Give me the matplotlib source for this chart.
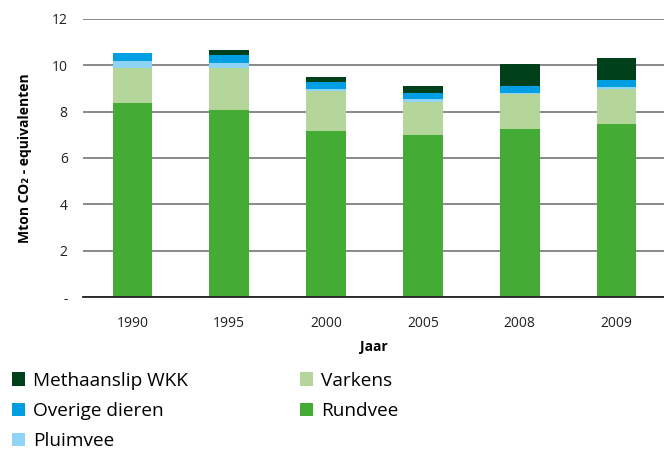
import matplotlib
matplotlib.use("Agg")
import matplotlib.pyplot as plt
import numpy as np
from matplotlib.patches import Patch

years = ["1990", "1995", "2000", "2005", "2008", "2009"]
rundvee = [8.37, 8.07, 7.16, 6.99, 7.25, 7.47]
varkens = [1.53, 1.83, 1.73, 1.43, 1.51, 1.51]
pluimvee = [0.28, 0.20, 0.09, 0.13, 0.05, 0.09]
overige = [0.35, 0.34, 0.30, 0.26, 0.30, 0.30]
methaanslip = [0.00, 0.22, 0.23, 0.30, 0.95, 0.95]

series = [
    ("Rundvee", rundvee, "#44ab35"),
    ("Varkens", varkens, "#b5d69a"),
    ("Pluimvee", pluimvee, "#8fd3f5"),
    ("Overige dieren", overige, "#009fe3"),
    ("Methaanslip WKK", methaanslip, "#00401a"),
]

plt.rcParams['font.family'] = ['Open Sans', 'DejaVu Sans']

fig = plt.figure(figsize=(6.64, 4.5), dpi=100)
ax = fig.add_axes([0.125, 0.34, 0.875, 0.618])

x = np.arange(len(years))
bottom = np.zeros(len(years))
for name, vals, col in series:
    ax.bar(x, vals, 0.41, bottom=bottom, color=col, zorder=3, label=name)
    bottom += np.array(vals)

ax.set_ylim(0, 12)
ax.set_xlim(-0.51, 5.49)
ax.set_yticks([0, 2, 4, 6, 8, 10, 12])
ax.set_yticklabels(["-", "2", "4", "6", "8", "10", "12"], fontsize=10, color="#222222")
ax.set_xticks(x)
ax.set_xticklabels(years, fontsize=10, color="#222222")
ax.tick_params(axis='y', length=0, pad=11)
ax.tick_params(axis='x', length=0, pad=14)
ax.grid(axis='y', color="#808080", linewidth=1.3, zorder=0)
for s in ["top", "right", "left"]:
    ax.spines[s].set_visible(False)
ax.spines["bottom"].set_color("#222222")
ax.spines["bottom"].set_linewidth(1.3)
ax.spines["bottom"].set_zorder(4)

ax.set_xlabel("Jaar", fontsize=10, fontweight="bold", labelpad=6)
ax.set_ylabel("Mton CO₂ - equivalenten", fontsize=10, fontweight="bold", labelpad=14)

order = ["Methaanslip WKK", "Overige dieren", "Pluimvee", "Varkens", "Rundvee"]
cmap = {n: c for n, _, c in series}
handles = [Patch(facecolor=cmap[n], edgecolor='none', label=n) for n in order]
fig.legend(handles=handles, loc="upper left", bbox_to_anchor=(0.018, 0.174),
           ncol=2, frameon=False, fontsize=13.7, handlelength=0.68, handleheight=0.68,
           handletextpad=0.42, labelspacing=0.65, columnspacing=5.9,
           borderaxespad=0, borderpad=0)

fig.savefig("out.png", dpi=100)
